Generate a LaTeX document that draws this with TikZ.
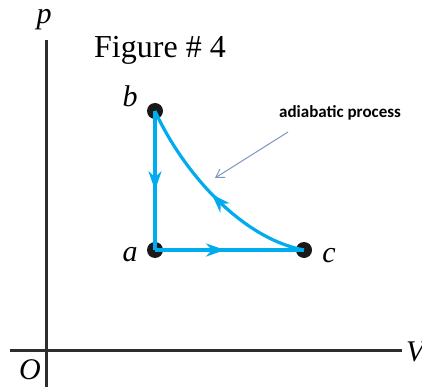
\documentclass[tikz,border=0pt]{standalone}
\usepackage{fontspec}
\setmainfont{Liberation Serif}
\newfontfamily\calib{Carlito}
\usepackage{tikz}
\usetikzlibrary{arrows.meta}
\usetikzlibrary{decorations.markings,positioning}

\definecolor{procblue}{RGB}{0,172,238}
\definecolor{notegray}{RGB}{125,150,195}
\definecolor{axisgray}{RGB}{45,45,45}

\tikzset{
  state/.style={circle, fill=black!90, inner sep=0pt, minimum size=16pt},
  statelabel/.style={font=\itshape\fontsize{30}{30}\selectfont, inner sep=0pt},
  proc/.style={draw=procblue, line width=3.2pt, postaction={decorate},
    decoration={markings, mark=at position #1 with {\arrow{Stealth[length=19pt,width=13pt,inset=6pt]}}}},
}

\begin{document}
\begin{tikzpicture}[x=1pt,y=-1pt]
  \useasboundingbox (0,0) rectangle (422,387);
  \fill[white] (0,0) rectangle (422,387);

  %% axes
  \coordinate (vtop) at (46,40);
  \coordinate (vbot) at (46,387);
  \coordinate (hleft) at (10,350);
  \coordinate (hright) at (402,350);
  \draw[color=axisgray, line width=3pt] (vtop) -- (vbot);
  \draw[color=axisgray, line width=3pt] (hleft) -- (hright);
  \node[statelabel] (plab) at (44,20) {p};
  \node[statelabel] (olab) at (30,370) {O};
  \node[statelabel, anchor=west] (vlab) at (406,352) {V};

  \node[font=\fontsize{32}{32}\selectfont, anchor=west, inner sep=0pt] (title) at (94,50) {Figure \# 4};

  %% states
  \node[state] (b) at (155,111) {};
  \node[state] (a) at (155,250) {};
  \node[state] (c) at (304,250) {};
  \node[statelabel] (blab) at (130,96) {b};
  \node[statelabel] (alab) at (130,255) {a};
  \node[statelabel] (clab) at (329,256) {c};

  %% process lines
  \draw[proc=0.57] (b.center) -- (a.center);
  \draw[proc=0.47] (a.center) -- (c.center);
  \draw[proc=0.52] (c.center) .. controls (240,238) and (182,170) .. (b.center);

  %% annotation
  \node[font=\calib\bfseries\fontsize{17}{17}\selectfont, anchor=west, inner sep=0pt] (note) at (279,113) {adiabatic process};
  \coordinate (tip) at (215,178);
  \draw[color=notegray, line width=1pt, -{Straight Barb[length=8pt,width=10pt]}] (288,132) -- (tip);
\end{tikzpicture}
\end{document}
